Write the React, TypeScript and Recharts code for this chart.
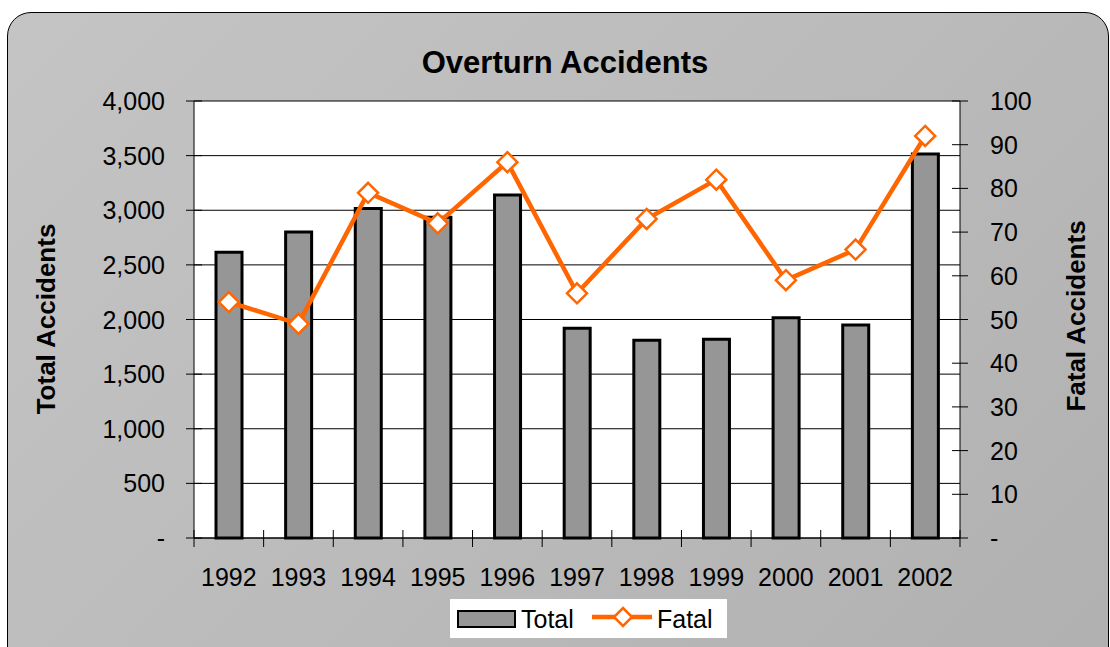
import React from 'react';
import { ComposedChart, Bar, Line, XAxis, YAxis, CartesianGrid } from 'recharts';

const years = ['1992', '1993', '1994', '1995', '1996', '1997', '1998', '1999', '2000', '2001', '2002'];
const totalAccidents = [2615, 2800, 3015, 2935, 3140, 1920, 1810, 1820, 2015, 1950, 3515];
const fatalAccidents = [54, 49, 79, 72, 86, 56, 73, 82, 59, 66, 92];
const leftTicks = [0, 500, 1000, 1500, 2000, 2500, 3000, 3500, 4000];
const rightTicks = [0, 10, 20, 30, 40, 50, 60, 70, 80, 90, 100];

const data = years.map((y, i) => ({ year: y, total: totalAccidents[i], fatal: fatalAccidents[i] }));

const W = 1110;
const H = 647;
const PL = 194;
const PR = 960;
const PT = 101;
const PB = 538;
const BW = (PR - PL) / years.length;
const FONT = '"Liberation Sans", Arial, sans-serif';
const ORANGE = '#FF6600';

const fmtLeft = (v: number) => (v === 0 ? '-' : v.toLocaleString('en-US'));
const fmtRight = (v: number) => (v === 0 ? '-' : String(v));

const LeftTick = (props: any) => {
  const { y, payload } = props;
  return (
    <g>
      <line x1={PL - 8} x2={PL + 8} y1={y} y2={y} stroke="#000" strokeWidth={1} />
      <text x={PL - 29} y={y} textAnchor="end" dominantBaseline="central" fontSize={25} fontFamily={FONT} fill="#000">
        {fmtLeft(payload.value)}
      </text>
    </g>
  );
};

const RightTick = (props: any) => {
  const { y, payload } = props;
  return (
    <g>
      <line x1={PR - 8} x2={PR + 8} y1={y} y2={y} stroke="#000" strokeWidth={1} />
      <text x={PR + 30} y={y} textAnchor="start" dominantBaseline="central" fontSize={25} fontFamily={FONT} fill="#000">
        {fmtRight(payload.value)}
      </text>
    </g>
  );
};

const BottomTick = (props: any) => {
  const { x, payload, index, visibleTicksCount } = props;
  const last = index === visibleTicksCount - 1;
  return (
    <g>
      <line x1={x - BW / 2} x2={x - BW / 2} y1={PB - 8} y2={PB + 9} stroke="#000" strokeWidth={1} />
      {last && <line x1={x + BW / 2} x2={x + BW / 2} y1={PB - 8} y2={PB + 9} stroke="#000" strokeWidth={1} />}
      <text x={x} y={PB + 39} textAnchor="middle" dominantBaseline="central" fontSize={25} fontFamily={FONT} fill="#000">
        {payload.value}
      </text>
    </g>
  );
};

const Diamond = (props: any) => {
  const { cx, cy, index } = props;
  const r = 10;
  return (
    <path
      key={`d-${index}`}
      d={`M${cx},${cy - r} L${cx + r},${cy} L${cx},${cy + r} L${cx - r},${cy} Z`}
      fill="#fff"
      stroke={ORANGE}
      strokeWidth={2.5}
    />
  );
};

export default function App() {
  return (
    <div style={{ position: 'absolute', left: 0, top: 0, width: W, height: H, overflow: 'hidden', fontFamily: FONT }}>
      <div
        style={{
          position: 'absolute',
          left: 7,
          top: 12,
          width: 1100,
          height: 660,
          border: '1px solid #000',
          borderRadius: 24,
          background: 'linear-gradient(135deg, #C4C4C4 0%, #BBBBBB 50%, #B0B0B0 100%)',
        }}
      />
      <div style={{ position: 'absolute', left: 0, top: 0 }}>
        <ComposedChart width={W} height={H} data={data} margin={{ top: PT, right: 0, bottom: 0, left: 0 }} barCategoryGap={0}>
          <CartesianGrid yAxisId="left" vertical={false} stroke="#000" strokeWidth={1} fill="#fff" fillOpacity={1} />
          <XAxis
            dataKey="year"
            height={H - PB}
            tickLine={false}
            axisLine={{ stroke: '#000', strokeWidth: 1 }}
            tick={<BottomTick />}
            interval={0}
          />
          <YAxis
            yAxisId="left"
            orientation="left"
            width={PL}
            domain={[0, 4000]}
            ticks={leftTicks}
            interval={0}
            tickLine={false}
            axisLine={{ stroke: '#000', strokeWidth: 1 }}
            tick={<LeftTick />}
          />
          <YAxis
            yAxisId="right"
            orientation="right"
            width={W - PR}
            domain={[0, 100]}
            ticks={rightTicks}
            interval={0}
            tickLine={false}
            axisLine={{ stroke: '#000', strokeWidth: 1 }}
            tick={<RightTick />}
          />
          <Bar yAxisId="left" dataKey="total" fill="#969696" stroke="#000" strokeWidth={3} barSize={26} isAnimationActive={false} />
          <Line
            yAxisId="right"
            dataKey="fatal"
            type="linear"
            stroke={ORANGE}
            strokeWidth={4.5}
            dot={<Diamond />}
            activeDot={false}
            isAnimationActive={false}
          />
        </ComposedChart>
      </div>
      <svg width={W} height={H} style={{ position: 'absolute', left: 0, top: 0, pointerEvents: 'none' }}>
        <text x={565} y={62} textAnchor="middle" dominantBaseline="central" fontSize={31} fontWeight="bold" fontFamily={FONT} fill="#000">
          Overturn Accidents
        </text>
        <text
          x={46}
          y={319}
          textAnchor="middle"
          dominantBaseline="central"
          fontSize={26}
          fontWeight="bold"
          fontFamily={FONT}
          fill="#000"
          transform="rotate(-90 46 319)"
        >
          Total Accidents
        </text>
        <text
          x={1076}
          y={316}
          textAnchor="middle"
          dominantBaseline="central"
          fontSize={26}
          fontWeight="bold"
          fontFamily={FONT}
          fill="#000"
          transform="rotate(-90 1076 316)"
        >
          Fatal Accidents
        </text>
        <rect x={450} y={599} width={277} height={39} fill="#fff" />
        <rect x={458} y={611} width={57} height={16} fill="#969696" stroke="#000" strokeWidth={2} />
        <text x={521} y={619} dominantBaseline="central" fontSize={25} fontFamily={FONT} fill="#000">
          Total
        </text>
        <line x1={592} x2={652} y1={617} y2={617} stroke={ORANGE} strokeWidth={4.5} />
        <path d="M623,608 L632,617 L623,626 L614,617 Z" fill="#fff" stroke={ORANGE} strokeWidth={2.5} />
        <text x={657} y={619} dominantBaseline="central" fontSize={25} fontFamily={FONT} fill="#000">
          Fatal
        </text>
      </svg>
    </div>
  );
}
